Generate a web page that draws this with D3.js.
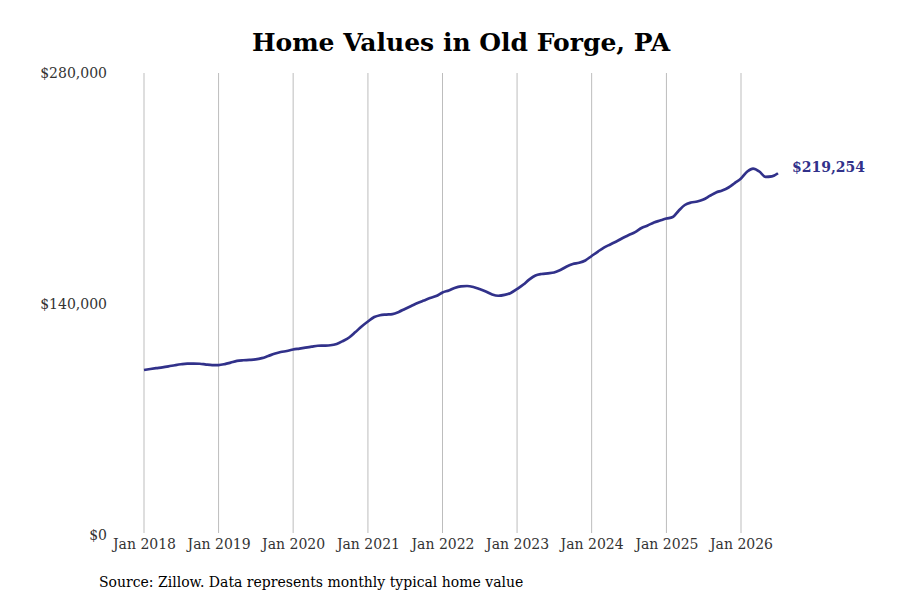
<!DOCTYPE html>
<html>
<head>
<meta charset="utf-8">
<script src="https://cdn.jsdelivr.net/npm/d3@7"></script>
<style>
  body { margin: 0; background: #fff; }
  text { font-family: "DejaVu Serif", serif; }
</style>
</head>
<body>
<div id="chart"></div>
<script>
// monthly typical home value, Jan 2018 .. Jul 2026
const startMonth = "2018-01";
const values = [
  100000, 100600, 101100, 101600, 102200, 102900, 103500, 103900, 103900, 103800, 103300, 103000,
  103000, 103600, 104500, 105500, 105900, 106100, 106400, 107200, 108500, 109800, 110900, 111500,
  112400, 113000, 113600, 114200, 114700, 114800, 115000, 115800, 117600, 119700, 123000, 126400,
  129400, 132100, 133200, 133600, 133900, 135200, 137000, 138800, 140600, 142100, 143600, 144800,
  147000, 148200, 149700, 150700, 150900, 150300, 149100, 147600, 145800, 145000, 145500, 146700,
  149100, 151800, 154800, 157300, 158200, 158600, 159100, 160600, 162700, 164200, 165000, 166400,
  169100, 171800, 174200, 176100, 177900, 180000, 181800, 183600, 186100, 187600, 189400, 190600,
  191800, 192700, 196400, 200000, 201500, 202100, 203300, 205500, 207600, 208800, 210600, 213300,
  216100, 220300, 222100, 220300, 217000, 217300, 219254
];
const yTicks = [0, 140000, 280000];
const xTickYears = [2018, 2019, 2020, 2021, 2022, 2023, 2024, 2025, 2026];

const parseMonth = d3.timeParse("%Y-%m");
const t0 = parseMonth(startMonth);
const data = values.map((v, i) => ({ date: d3.timeMonth.offset(t0, i), value: v }));

const width = 900, height = 600;
const lineColor = "#31318a";

const svg = d3.select("#chart")
  .append("svg")
    .attr("width", width)
    .attr("height", height);

// scales
const x = d3.scaleTime()
  .domain([new Date(2018, 0, 1), new Date(2026, 0, 1)])
  .range([144, 741]);
const y = d3.scaleLinear()
  .domain([0, 280000])
  .range([535, 73]);

// title
svg.append("text")
  .attr("x", 461)
  .attr("y", 51)
  .attr("text-anchor", "middle")
  .style("font-size", "25px")
  .style("font-weight", "bold")
  .style("fill", "#000")
  .text("Home Values in Old Forge, PA");

// vertical grid lines
svg.append("g")
  .selectAll("line")
  .data(xTickYears)
  .join("line")
    .attr("x1", d => x(new Date(d, 0, 1)))
    .attr("x2", d => x(new Date(d, 0, 1)))
    .attr("y1", y(280000))
    .attr("y2", 533)
    .attr("stroke", "#bdbdbd")
    .attr("stroke-width", 1);

// x axis labels
const xAxis = svg.append("g")
  .attr("transform", "translate(0, 535)")
  .call(d3.axisBottom(x)
    .tickValues(xTickYears.map(yr => new Date(yr, 0, 1)))
    .tickFormat(d3.timeFormat("Jan %Y"))
    .tickSize(0)
    .tickPadding(4));
xAxis.select(".domain").remove();
xAxis.selectAll("text")
  .style("font-family", "DejaVu Serif, serif")
  .style("font-size", "14px")
  .style("fill", "#333");

// y axis labels
const yAxis = svg.append("g")
  .attr("transform", "translate(107, 0)")
  .call(d3.axisLeft(y)
    .tickValues(yTicks)
    .tickFormat(d => "$" + d3.format(",")(d))
    .tickSize(0)
    .tickPadding(0));
yAxis.select(".domain").remove();
yAxis.selectAll("text")
  .style("font-family", "DejaVu Serif, serif")
  .style("font-size", "14px")
  .style("fill", "#333");

// the line
svg.append("path")
  .datum(data)
  .attr("d", d3.line()
    .x(d => x(d.date))
    .y(d => y(d.value))
    .curve(d3.curveMonotoneX))
  .attr("fill", "none")
  .attr("stroke", lineColor)
  .attr("stroke-width", 2.7)
  .attr("stroke-linejoin", "round");

// end label
const last = data[data.length - 1];
svg.append("text")
  .attr("x", x(last.date) + 14)
  .attr("y", y(last.value) - 6)
  .attr("dy", "0.35em")
  .style("font-size", "14px")
  .style("font-weight", "bold")
  .style("fill", lineColor)
  .text("$" + d3.format(",")(last.value));

// source note
svg.append("text")
  .attr("x", 99)
  .attr("y", 587)
  .style("font-size", "14px")
  .style("fill", "#000")
  .text("Source: Zillow. Data represents monthly typical home value");
</script>
</body>
</html>
